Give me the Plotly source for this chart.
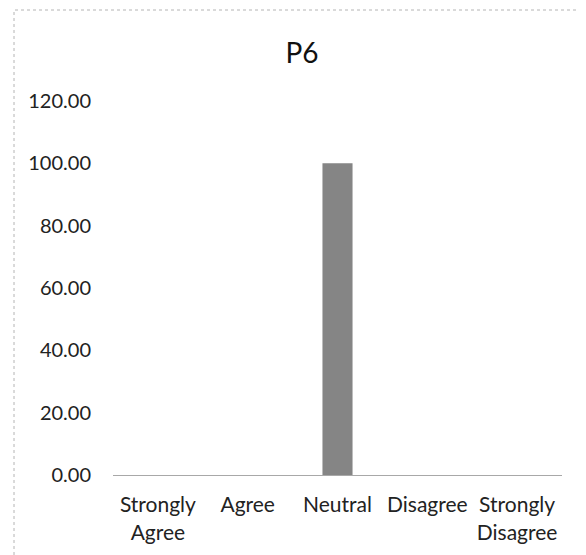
import plotly.graph_objects as go

categories = ["Strongly<br>Agree", "Agree", "Neutral", "Disagree", "Strongly<br>Disagree"]
values = [0, 0, 100, 0, 0]
tick_vals = [0, 20, 40, 60, 80, 100, 120]
tick_text = ["0.00", "20.00", "40.00", "60.00", "80.00", "100.00", "120.00"]
title_text = "P6"

# page body has an 8px default margin; figure coordinates compensate for it
W, H = 586, 555
L, R, T, B = 105, 32, 93, 88
pw, ph = W - L - R, H - T - B

fig = go.Figure(go.Bar(x=categories, y=values, marker=dict(color="#858585", line=dict(width=0)),
                       width=0.335))

def px2paper_x(px):
    return (px - L) / pw

def px2paper_y(py):
    return (H - B - py) / ph

fig.add_shape(type="rect", xref="paper", yref="paper",
              x0=px2paper_x(6), x1=px2paper_x(620), y0=px2paper_y(620), y1=px2paper_y(2),
              line=dict(color="#b4b4b4", width=1, dash="dot"), layer="below")

fig.update_layout(
    width=W, height=H,
    margin=dict(l=L, r=R, t=T, b=B, autoexpand=False),
    paper_bgcolor="white", plot_bgcolor="white",
    font=dict(family="Lato", color="#222222", size=20),
    title=dict(text=title_text, x=294 / W, xref="container", xanchor="center",
               y=1 - 45 / H, yref="container", yanchor="middle",
               font=dict(size=28, color="#111111", family="Lato")),
    showlegend=False,
)
fig.update_xaxes(showline=True, linecolor="#a8a8a8", linewidth=1, showgrid=False,
                 ticks="", tickfont=dict(size=21), ticklabelstandoff=11)
fig.update_yaxes(range=[0, 120], tickvals=tick_vals, ticktext=tick_text, showgrid=False,
                 zeroline=False, showline=False, ticks="", tickfont=dict(size=20),
                 ticklabelstandoff=21)

fig.write_html("out.html")
